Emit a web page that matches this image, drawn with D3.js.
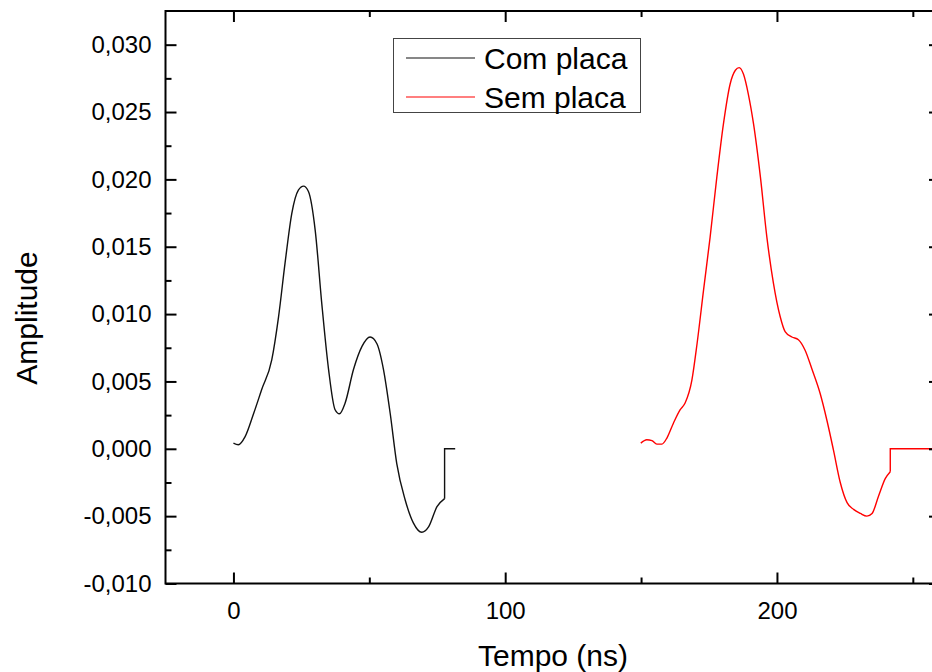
<!DOCTYPE html>
<html>
<head>
<meta charset="utf-8">
<script src="https://cdn.jsdelivr.net/npm/d3@7"></script>
<style>
  body { margin: 0; background: #fff; }
  svg { display: block; font-family: Arial, "Liberation Sans", sans-serif; }
</style>
</head>
<body>
<div id="chart"></div>
<script>
// Data
const comTime = [0, 1.8, 4.3, 7.4, 10.4, 14.1, 16.6, 19, 21.5, 23.9, 25.8, 27.6, 30.1, 32.5, 35, 37.4, 39, 41.1, 44.2, 47.3, 50.3, 52.8, 55.2, 57.7, 60.1, 63.2, 66.2, 69.3, 71.8, 74.9, 77.7, 77.7, 81.6];
const comAmp = [0.00042, 0.0003, 0.0009, 0.0026, 0.0044, 0.0066, 0.0098, 0.0138, 0.0175, 0.0192, 0.0195, 0.0191, 0.0162, 0.0108, 0.0059, 0.0029, 0.0026, 0.0034, 0.0059, 0.0076, 0.0083, 0.0078, 0.0059, 0.0026, -0.0011, -0.0038, -0.0055, -0.0062, -0.0058, -0.0043, -0.0037, 0, 0];

const semTime = [149.9, 152.1, 154, 155.8, 157.7, 159.5, 161.9, 164.4, 166.2, 168.7, 170.6, 173, 175.4, 177.9, 180.3, 182.8, 184.7, 186.1, 187.7, 189.5, 191.4, 193.9, 196.3, 198.7, 201.2, 203, 205.5, 207.9, 210.4, 212.9, 215.9, 218.4, 220.8, 223.3, 225.8, 228.2, 230.7, 233.1, 235, 237.4, 239.9, 241.7, 241.7, 260];
const semAmp = [0.00042, 0.00067, 0.0006, 0.00035, 0.00035, 0.0008, 0.0019, 0.0029, 0.0034, 0.0051, 0.0078, 0.0118, 0.0157, 0.0202, 0.0241, 0.0271, 0.0281, 0.0283, 0.0278, 0.0263, 0.0241, 0.0202, 0.0157, 0.0123, 0.0098, 0.0087, 0.0083, 0.0081, 0.0073, 0.0059, 0.0041, 0.0021, -0.0001, -0.0025, -0.0040, -0.0045, -0.0048, -0.0050, -0.0048, -0.0035, -0.0022, -0.0017, 0, 0];

const xTicks = [0, 100, 200];
const xMinor = [50, 150, 250];
const yTicks = [-0.010, -0.005, 0, 0.005, 0.010, 0.015, 0.020, 0.025, 0.030];
const yMinor = [-0.0075, -0.0025, 0.0025, 0.0075, 0.0125, 0.0175, 0.0225, 0.0275];

const seriesNames = ["Com placa", "Sem placa"];
const seriesColors = ["#111111", "#ff0000"];

const width = 932, height = 672;
const plot = { left: 165.5, right: 940, top: 11, bottom: 583.5 };

const svg = d3.select("#chart").append("svg")
  .attr("width", width)
  .attr("height", height);

const x = d3.scaleLinear().domain([-25, 260]).range([plot.left, plot.right]);
const y = d3.scaleLinear().domain([-0.010, 0.0325]).range([plot.bottom, plot.top]);

const fmt = d => d3.format(".3f")(d).replace(".", ",").replace("−", "-");

// smooth part of each pulse, then the straight jump back to zero
const smooth = d3.line()
  .x(d => x(d[0]))
  .y(d => y(d[1]))
  .curve(d3.curveMonotoneX);
const straight = d3.line()
  .x(d => x(d[0]))
  .y(d => y(d[1]));

const series = [
  comTime.map((t, i) => [t, comAmp[i]]),
  semTime.map((t, i) => [t, semAmp[i]])
];

series.forEach((s, i) => {
  const cut = s.length - 3; // last smooth point
  svg.append("path")
    .datum(s.slice(0, cut + 1))
    .attr("d", smooth)
    .attr("fill", "none")
    .attr("stroke", seriesColors[i])
    .attr("stroke-width", 1.4);
  svg.append("path")
    .datum(s.slice(cut))
    .attr("d", straight)
    .attr("fill", "none")
    .attr("stroke", seriesColors[i])
    .attr("stroke-width", 1.4);
});

// Axes (ticks pointing inward on all four sides)
const axisStyle = g => {
  g.select(".domain").remove();
  g.selectAll("line").attr("stroke", "#000").attr("stroke-width", 2);
  g.selectAll("text").attr("fill", "#000").style("font-size", "24px");
};

svg.append("g")
  .attr("transform", `translate(0,${plot.bottom})`)
  .call(d3.axisBottom(x).tickValues(xTicks).tickSizeInner(-11).tickSizeOuter(0).tickPadding(18))
  .call(axisStyle);
svg.append("g")
  .attr("transform", `translate(0,${plot.bottom})`)
  .call(d3.axisBottom(x).tickValues(xMinor).tickSizeInner(-6).tickSizeOuter(0).tickFormat(""))
  .call(axisStyle);
svg.append("g")
  .attr("transform", `translate(0,${plot.top})`)
  .call(d3.axisTop(x).tickValues(xTicks).tickSizeInner(-11).tickSizeOuter(0).tickFormat(""))
  .call(axisStyle);
svg.append("g")
  .attr("transform", `translate(0,${plot.top})`)
  .call(d3.axisTop(x).tickValues(xMinor).tickSizeInner(-6).tickSizeOuter(0).tickFormat(""))
  .call(axisStyle);

svg.append("g")
  .attr("transform", `translate(${plot.left},0)`)
  .call(d3.axisLeft(y).tickValues(yTicks).tickSizeInner(-11).tickSizeOuter(0).tickPadding(14).tickFormat(fmt))
  .call(axisStyle);
svg.append("g")
  .attr("transform", `translate(${plot.left},0)`)
  .call(d3.axisLeft(y).tickValues(yMinor).tickSizeInner(-6).tickSizeOuter(0).tickFormat(""))
  .call(axisStyle);
svg.append("g")
  .attr("transform", `translate(${plot.right},0)`)
  .call(d3.axisRight(y).tickValues(yTicks).tickSizeInner(-11).tickSizeOuter(0).tickFormat(""))
  .call(axisStyle);

// Frame
svg.append("rect")
  .attr("x", plot.left)
  .attr("y", plot.top)
  .attr("width", plot.right - plot.left)
  .attr("height", plot.bottom - plot.top)
  .attr("fill", "none")
  .attr("stroke", "#000")
  .attr("stroke-width", 2);

// Axis titles
svg.append("text")
  .attr("x", 553)
  .attr("y", 666)
  .attr("text-anchor", "middle")
  .style("font-size", "30px")
  .text("Tempo (ns)");

svg.append("text")
  .attr("transform", "translate(37,318) rotate(-90)")
  .attr("text-anchor", "middle")
  .style("font-size", "30px")
  .text("Amplitude");

// Legend
const legend = svg.append("g");
legend.append("rect")
  .attr("x", 393.5).attr("y", 38.5)
  .attr("width", 247).attr("height", 74)
  .attr("fill", "#fff")
  .attr("stroke", "#444")
  .attr("stroke-width", 1);

seriesNames.forEach((name, i) => {
  const cy = 58 + i * 39;
  legend.append("line")
    .attr("x1", 406).attr("x2", 475)
    .attr("y1", cy).attr("y2", cy)
    .attr("stroke", seriesColors[i])
    .attr("stroke-width", 1.2);
  legend.append("text")
    .attr("x", 484)
    .attr("y", cy + 11)
    .style("font-size", "30px")
    .text(name);
});
</script>
</body>
</html>
